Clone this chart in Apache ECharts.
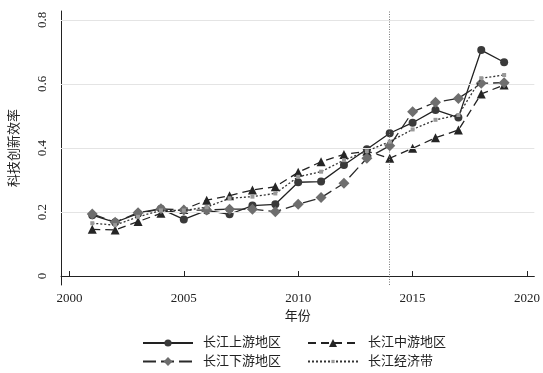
<!DOCTYPE html>
<html>
<head>
<meta charset="utf-8">
<script src="https://cdn.jsdelivr.net/npm/echarts@6/dist/echarts.min.js"></script>
<style>html,body{margin:0;padding:0;background:#fff;}#c{width:543px;height:373px;}</style>
</head>
<body>
<div id="c"></div>
<script>
const years = [2001,2002,2003,2004,2005,2006,2007,2008,2009,2010,2011,2012,2013,2014,2015,2016,2017,2018,2019];
const upstream   = [0.190,0.168,0.195,0.210,0.177,0.205,0.193,0.220,0.224,0.293,0.295,0.347,0.396,0.446,0.479,0.519,0.495,0.706,0.668];
const midstream  = [0.146,0.144,0.170,0.196,0.208,0.237,0.251,0.269,0.279,0.324,0.357,0.380,0.390,0.368,0.399,0.432,0.456,0.569,0.597];
const downstream = [0.194,0.168,0.198,0.210,0.206,0.206,0.209,0.209,0.201,0.224,0.245,0.290,0.368,0.407,0.513,0.543,0.555,0.602,0.604];
const belt       = [0.165,0.159,0.185,0.205,0.205,0.215,0.243,0.248,0.258,0.310,0.326,0.362,0.390,0.420,0.458,0.488,0.503,0.618,0.628];
const xTicks = [2000,2005,2010,2015,2020];
const yTicks = [0,0.2,0.4,0.6,0.8];
const gridYs = [0.2,0.4,0.6,0.8];
const markYear = 2014;
const names = ['长江上游地区','长江中游地区','长江下游地区','长江经济带'];

const FONT = "'Liberation Serif','Noto Sans CJK SC',serif";
const pair = arr => years.map((y,i)=>[y,arr[i]]);
const legendText = {fontFamily:FONT,fontSize:13,color:'#222',padding:[0,0,0,5],lineHeight:14};
function lg(name,left,top,ih){
  return {data:[name], orient:'horizontal', left:left, top:top, itemWidth:50, itemHeight:ih, padding:0,
    textStyle:legendText};
}

const chart = echarts.init(document.getElementById('c'), null, {renderer:'canvas'});
chart.setOption({
  animation:false,
  backgroundColor:'#fff',
  grid:{left:60,right:8,top:11,bottom:88,containLabel:false},
  xAxis:{
    type:'value', min:1999.633, max:2020.32,
    axisLine:{show:true,lineStyle:{color:'#222',width:1}},
    axisTick:{show:true,inside:true,length:5,customValues:xTicks,lineStyle:{color:'#222'}},
    axisLabel:{customValues:xTicks,margin:7,fontFamily:FONT,fontSize:13,color:'#222',formatter:v=>String(v)},
    splitLine:{show:false},
    name:'年份', nameLocation:'middle', nameGap:24,
    nameTextStyle:{fontFamily:FONT,fontSize:13,color:'#222'}
  },
  yAxis:{
    type:'value', min:-0.028, max:0.828,
    axisLine:{show:true,lineStyle:{color:'#222',width:1}},
    axisTick:{show:true,inside:true,length:5,customValues:yTicks,lineStyle:{color:'#222'}},
    axisLabel:{customValues:yTicks,rotate:90,margin:12,fontFamily:FONT,fontSize:13,color:'#222',
      formatter:v=>v===0?'0':v.toFixed(1)},
    splitLine:{show:false},
    name:'科技创新效率', nameLocation:'middle', nameGap:40, nameRotate:90,
    nameTextStyle:{fontFamily:FONT,fontSize:13,color:'#222'}
  },
  legend:[
    lg(names[0],142,336,9),
    lg(names[1],307,336,10),
    lg(names[2],142,354.5,11),
    lg(names[3],307,354.5,4)
  ],
  series:[
    {name:names[0], type:'line', data:pair(upstream), symbol:'circle', symbolSize:8,
     lineStyle:{color:'#222',width:1.3,type:'solid'}, itemStyle:{color:'#3a3a3a'},
     markLine:{silent:true,symbol:'none',label:{show:false},
       data:[...gridYs.map(v=>({yAxis:v,lineStyle:{color:'#e4e4e4',width:1,type:'solid'}})),
             {xAxis:markYear,lineStyle:{color:'#777',width:1,type:[1,1.5]}}]},
     z:3},
    {name:names[1], type:'line', data:pair(midstream), symbol:'triangle', symbolSize:9,
     lineStyle:{color:'#222',width:1.3,type:[8,5]}, itemStyle:{color:'#252525'}, z:4},
    {name:names[2], type:'line', data:pair(downstream), symbol:'diamond', symbolSize:11,
     lineStyle:{color:'#2a2a2a',width:1.3,type:[13,5]}, itemStyle:{color:'#6e6e6e'}, z:5},
    {name:names[3], type:'line', data:pair(belt), symbol:'rect', symbolSize:4,
     lineStyle:{color:'#333',width:1.3,type:[2,2]}, itemStyle:{color:'#999'}, z:6}
  ]
});
</script>
</body>
</html>
